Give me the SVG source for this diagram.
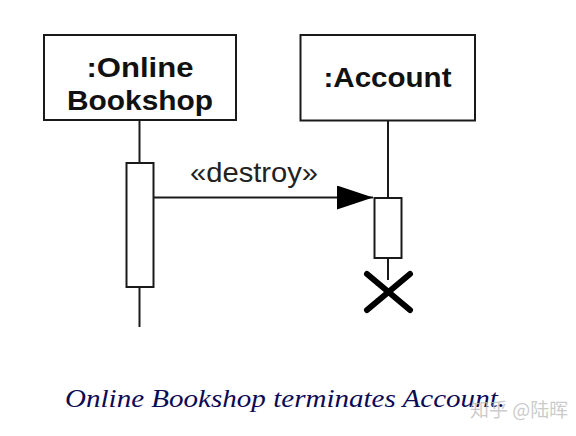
<svg xmlns="http://www.w3.org/2000/svg" width="576" height="436" viewBox="0 0 576 436">
<style>
.box{fill:#fff;stroke:#1a1a1a;stroke-width:2}
.act{fill:#fff;stroke:#1a1a1a;stroke-width:2}
.life{stroke:#1a1a1a;stroke-width:2;fill:none}
.name{font-family:"Liberation Sans",Arial,sans-serif;font-weight:bold;font-size:28px;fill:#111;text-anchor:middle}
.msg{font-family:"Liberation Sans",Arial,sans-serif;font-size:28px;fill:#222;text-anchor:middle}
.cap{font-family:"Liberation Serif","Times New Roman",serif;font-style:italic;font-size:26px;fill:#0b0b55}
.wm{font-family:"Noto Sans CJK SC","Noto Sans",sans-serif;font-size:19px;fill:#bdbdbd;fill-opacity:0.8}
</style>
<defs>
<marker id="arrow" viewBox="0 0 36 24" refX="36" refY="12" markerWidth="36" markerHeight="24" markerUnits="userSpaceOnUse" orient="auto">
<path d="M0,0 L36,12 L0,24 Z" fill="#000"/>
</marker>
</defs>
<rect width="576" height="436" fill="#fff"/>
<g id="online-bookshop">
<line class="life" x1="139.5" y1="120" x2="139.5" y2="327"/>
<rect class="box" x="44" y="35" width="192" height="85"/>
<text class="name" x="140" y="77" textLength="107" lengthAdjust="spacingAndGlyphs">:Online</text>
<text class="name" x="140" y="110" textLength="146" lengthAdjust="spacingAndGlyphs">Bookshop</text>
<rect class="act" x="126.5" y="163" width="27" height="124"/>
</g>
<g id="account">
<line class="life" x1="388" y1="120" x2="388" y2="280"/>
<rect class="box" x="300.5" y="35" width="174.5" height="85.5"/>
<text class="name" x="387.5" y="87" textLength="128" lengthAdjust="spacingAndGlyphs">:Account</text>
<rect class="act" x="374.5" y="198" width="27" height="60"/>
<g id="destruction" stroke="#000" stroke-width="6" stroke-linecap="round">
<line x1="367" y1="274" x2="410" y2="310"/>
<line x1="410" y1="274" x2="367" y2="310"/>
</g>
</g>
<g id="connectors">
<line x1="154" y1="197.5" x2="373" y2="197.5" stroke="#1a1a1a" stroke-width="2" marker-end="url(#arrow)"/>
<text class="msg" x="254" y="181.5" textLength="128" lengthAdjust="spacingAndGlyphs">«destroy»</text>
</g>
<text class="cap" x="65" y="406.5" textLength="440" lengthAdjust="spacingAndGlyphs">Online Bookshop terminates Account.</text>
<text class="wm" x="470" y="417">知乎 @陆晖</text>
</svg>
